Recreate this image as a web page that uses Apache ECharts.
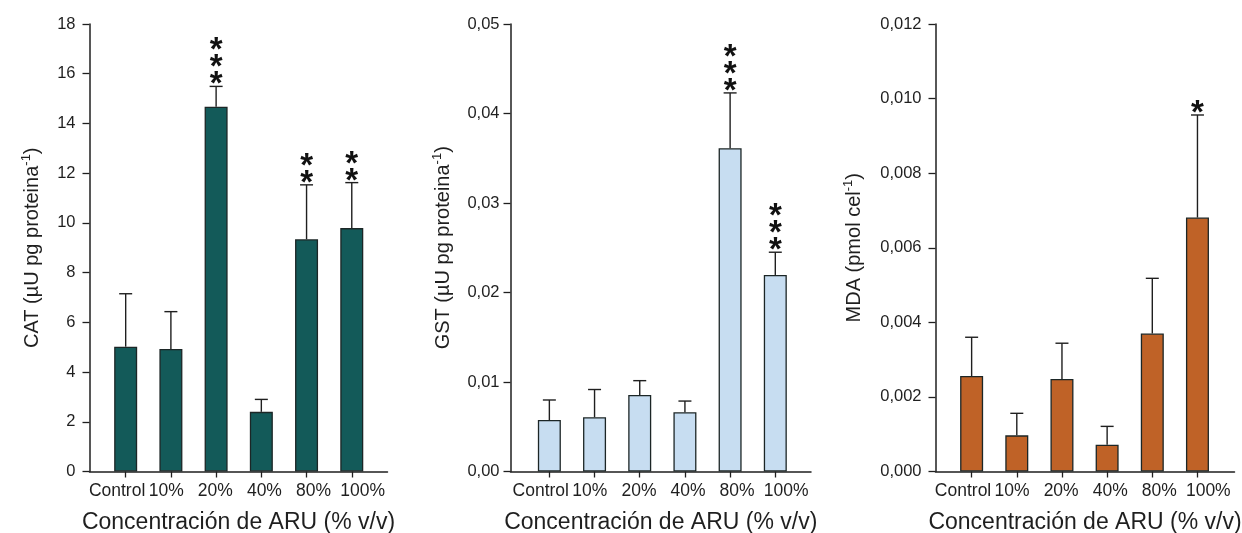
<!DOCTYPE html>
<html>
<head>
<meta charset="utf-8">
<script src="https://cdn.jsdelivr.net/npm/echarts@6/dist/echarts.min.js"></script>
<style>
  html, body { margin: 0; padding: 0; background: #ffffff; }
  #chart { width: 1242px; height: 533px; }
</style>
</head>
<body>
<div id="chart"></div>
<script>
// Treatment groups (ARU concentration)
const categories = ['Control', '10%', '20%', '40%', '80%', '100%'];

// CAT activity: mean and SD
const catMean = [5.02, 4.93, 14.67, 2.40, 9.34, 9.79];
const catSd   = [2.13, 1.50, 0.82, 0.50, 2.19, 1.83];
const catSig  = [0, 0, 3, 0, 2, 2];

// GST activity: mean and SD
const gstMean = [0.00575, 0.00606, 0.00854, 0.00662, 0.03611, 0.02196];
const gstSd   = [0.00224, 0.00310, 0.00161, 0.00125, 0.00619, 0.00254];
const gstSig  = [0, 0, 0, 0, 3, 3];

// MDA content: mean and SD
const mdaMean = [0.00256, 0.00097, 0.00248, 0.00072, 0.00370, 0.00681];
const mdaSd   = [0.00104, 0.00059, 0.00096, 0.00049, 0.00148, 0.00275];
const mdaSig  = [0, 0, 0, 0, 0, 1];

// Axis ranges and tick labels
const catTicks = { min: 0, max: 18, interval: 2, decimals: 0 };
const gstTicks = { min: 0, max: 0.05, interval: 0.01, decimals: 2 };
const mdaTicks = { min: 0, max: 0.012, interval: 0.002, decimals: 3 };

const xTitle = 'Concentración de ARU (% v/v)';

const FONT = '"Liberation Sans", Arial, Helvetica, sans-serif';
const INK = '#1f1f1f';

// category labels are spread slightly wider than the tick marks
const LABEL_STEP = 1.086;
const LABEL_SHIFT = -0.19;

const panels = [
  { mean: catMean, sd: catSd, sig: catSig, ticks: catTicks, color: '#135a59',
    name: '{a|CAT (µU pg proteina}{s|-1}{a|)}', nameGap: 45, labelMargin: 14,
    left: 89.5, width: 298, xMin: -0.80, xMax: 5.79 },
  { mean: gstMean, sd: gstSd, sig: gstSig, ticks: gstTicks, color: '#c7ddf1',
    name: '{a|GST (µU pg proteina}{s|-1}{a|)}', nameGap: 55, labelMargin: 11,
    left: 510.5, width: 300.5, xMin: -0.86, xMax: 5.79 },
  { mean: mdaMean, sd: mdaSd, sig: mdaSig, ticks: mdaTicks, color: '#bf6227',
    name: '{a|MDA (pmol cel}{s|-1}{a|)}', nameGap: 69, labelMargin: 14,
    left: 935.5, width: 299, xMin: -0.80, xMax: 5.82 }
];

const catIdx = categories.map((_, i) => i);
const labelPos = catIdx.map(i => i * LABEL_STEP + LABEL_SHIFT);

const option = {
  backgroundColor: '#ffffff',
  animation: false,
  textStyle: { fontFamily: FONT },
  grid: [], xAxis: [], yAxis: [], series: []
};

panels.forEach((p, k) => {
  option.grid.push({ left: p.left, width: p.width, top: 24, bottom: 61.5,
    containLabel: false, outerBoundsMode: 'none' });

  option.xAxis.push({
    type: 'value', gridIndex: k, min: p.xMin, max: p.xMax,
    name: xTitle, nameLocation: 'middle', nameGap: 40,
    nameTextStyle: { fontSize: 23, color: INK, fontFamily: FONT },
    axisLine: { show: true, onZero: false, lineStyle: { color: INK, width: 1.5 } },
    axisTick: { show: true, customValues: catIdx, length: 6, lineStyle: { color: INK, width: 1.3 } },
    axisLabel: { show: true, customValues: labelPos, margin: 11, fontSize: 17.5, color: INK,
      fontFamily: FONT, showMinLabel: true, showMaxLabel: true, hideOverlap: false,
      formatter: v => categories[Math.round((v - LABEL_SHIFT) / LABEL_STEP)] },
    splitLine: { show: false }
  });

  option.yAxis.push({
    type: 'value', gridIndex: k, min: p.ticks.min, max: p.ticks.max, interval: p.ticks.interval,
    name: p.name, nameLocation: 'middle', nameGap: p.nameGap,
    nameTextStyle: {
      fontFamily: FONT, color: INK,
      rich: {
        a: { fontSize: 20, color: INK, fontFamily: FONT },
        s: { fontSize: 13, color: INK, fontFamily: FONT, padding: [0, 0, 12, 0] }
      }
    },
    axisLine: { show: true, onZero: false, lineStyle: { color: INK, width: 1.5 } },
    axisTick: { show: true, length: 7, lineStyle: { color: INK, width: 1.3 } },
    axisLabel: { fontSize: 16.5, color: INK, margin: p.labelMargin, fontFamily: FONT,
      showMinLabel: true, showMaxLabel: true,
      formatter: v => v.toFixed(p.ticks.decimals).replace('.', ',') },
    splitLine: { show: false }
  });

  option.series.push({
    type: 'bar', xAxisIndex: k, yAxisIndex: k, barWidth: 23,
    itemStyle: { color: p.color, borderColor: '#1c2626', borderWidth: 1.3 },
    data: p.mean.map((m, i) => [i, m])
  });

  // upper error bars with caps, and significance asterisks above
  option.series.push({
    type: 'custom', xAxisIndex: k, yAxisIndex: k, z: 5, clip: false,
    data: p.mean.map((m, i) => [i, m, p.sd[i], p.sig[i]]),
    renderItem: (params, api) => {
      const x = api.value(0), m = api.value(1), sd = api.value(2), n = api.value(3);
      const base = api.coord([x, m]);
      const cap = api.coord([x, m + sd]);
      const ls = { stroke: INK, lineWidth: 1.4 };
      const children = [
        { type: 'line', shape: { x1: base[0], y1: base[1], x2: cap[0], y2: cap[1] }, style: ls },
        { type: 'line', shape: { x1: cap[0] - 6.5, y1: cap[1], x2: cap[0] + 6.5, y2: cap[1] }, style: ls }
      ];
      for (let j = 0; j < n; j++) {
        children.push({
          type: 'text',
          style: {
            text: '*', x: cap[0], y: cap[1] - 1 - 17 * j,
            align: 'center', verticalAlign: 'middle',
            font: 'bold 33px ' + FONT, fill: '#111111'
          }
        });
      }
      return { type: 'group', children };
    }
  });
});

const chart = echarts.init(document.getElementById('chart'), null, { renderer: 'canvas' });
chart.setOption(option);
</script>
</body>
</html>
